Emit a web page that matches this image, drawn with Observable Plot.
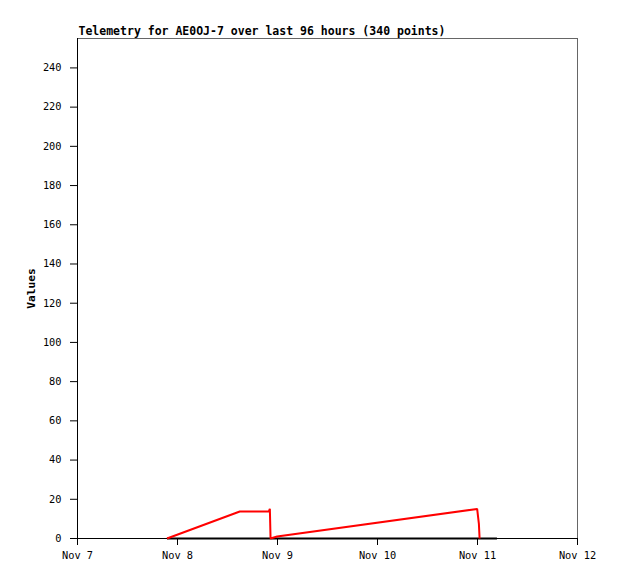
<!DOCTYPE html>
<html>
<head>
<meta charset="utf-8">
<script src="https://cdn.jsdelivr.net/npm/d3@7"></script>
<script src="https://cdn.jsdelivr.net/npm/@observablehq/plot@0.6"></script>
<style>
  html, body { margin: 0; padding: 0; background: #fff; }
</style>
</head>
<body>
<div id="chart"></div>
<script>
const title = "Telemetry for AE0OJ-7 over last 96 hours (340 points)";
const yLabel = "Values";

const redTimes = [
  "2023-11-07T21:29Z", "2023-11-08T14:57Z", "2023-11-08T21:55Z",
  "2023-11-08T22:10Z", "2023-11-08T22:20Z", "2023-11-08T23:55Z",
  "2023-11-10T23:55Z", "2023-11-11T00:20Z", "2023-11-11T00:30Z"
];
const redValues = [0, 13.8, 13.8, 15.1, 0, 1.0, 15.1, 7.5, 0];

const blackTimes = ["2023-11-07T21:29Z", "2023-11-11T04:40Z"];
const blackValues = [0, 0];

const xTicks = ["2023-11-07", "2023-11-08", "2023-11-09", "2023-11-10", "2023-11-11", "2023-11-12"];
const yTicks = [0, 20, 40, 60, 80, 100, 120, 140, 160, 180, 200, 220, 240];

const red = redTimes.map((t, i) => ({t: new Date(t), v: redValues[i]}));
const black = blackTimes.map((t, i) => ({t: new Date(t), v: blackValues[i]}));
const xt = xTicks.map(d => new Date(d + "T00:00Z"));
const fmt = d3.utcFormat("%b %-d");

const chart = Plot.plot({
  width: 618,
  height: 579,
  marginTop: 38,
  marginLeft: 77,
  marginRight: 41,
  marginBottom: 41,
  style: {fontFamily: "'DejaVu Sans Mono', monospace", fontSize: "10.3px", background: "#fff", color: "#000"},
  x: {type: "utc", domain: [xt[0], xt[xt.length - 1]]},
  y: {domain: [0, 255]},
  marks: [
    Plot.frame({stroke: "#666"}),
    Plot.ruleX([xt[0]], {stroke: "#000"}),
    Plot.ruleY([0], {stroke: "#000"}),
    Plot.axisX({ticks: xt, tickSize: 7, tickPadding: 6, tickFormat: fmt, label: null}),
    Plot.axisY({ticks: yTicks, tickSize: 7, tickPadding: 9, label: null}),
    Plot.lineY(black, {x: "t", y: "v", stroke: "#000", strokeWidth: 2, strokeLinejoin: "miter", strokeLinecap: "butt"}),
    Plot.lineY(red, {x: "t", y: "v", stroke: "#ff0000", strokeWidth: 2, strokeLinejoin: "miter", strokeLinecap: "butt"}),
    Plot.text([title], {frameAnchor: "top-left", dx: 1, dy: -4, lineAnchor: "bottom", textAnchor: "start", fontWeight: "bold", fontSize: 11.5}),
    Plot.text([yLabel], {frameAnchor: "left", dx: -46, rotate: -90, textAnchor: "middle", lineAnchor: "middle", fontWeight: "bold", fontSize: 11.2})
  ]
});
document.getElementById("chart").append(chart);
</script>
</body>
</html>
